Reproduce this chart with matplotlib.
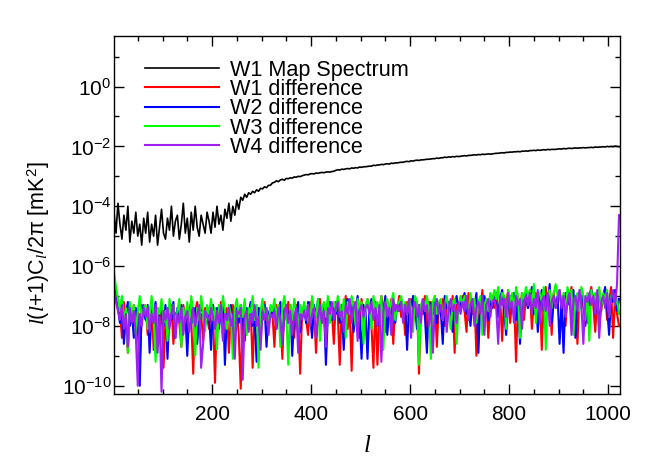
import numpy as np
import matplotlib
matplotlib.use("Agg")
import matplotlib.pyplot as plt
from matplotlib.ticker import FixedLocator, NullFormatter, LogFormatterSciNotation, MultipleLocator

plt.rcParams['font.family'] = ['Liberation Sans', 'DejaVu Sans']
plt.rcParams['mathtext.fontset'] = 'custom'
plt.rcParams['mathtext.rm'] = 'Liberation Sans'
plt.rcParams['mathtext.it'] = 'Liberation Serif:italic'
plt.rcParams['mathtext.bf'] = 'Liberation Sans:bold'

# multipole grid (every 4th l)
ell = np.arange(2, 1023, 4)

labels = ["W1 Map Spectrum", "W1 difference", "W2 difference", "W3 difference", "W4 difference"]
colors = ["black", "#ff0000", "#0000ff", "#00ff00", "#a020f0"]

# log10 of l(l+1)C_l/2pi [mK^2]
w1_map_log = [
    -4.2, -4.9, -3.9, -4.6, -5.1, -4.3, -4.8, -4.0, -5.2, -4.5, -4.9, -4.2, -5.0, -4.6, -5.3, -4.4,
    -4.9, -4.2, -5.2, -4.6, -5.0, -4.3, -5.3, -4.7, -4.1, -4.9, -5.1, -4.4, -4.8, -4.0, -5.0, -4.5,
    -4.3, -5.1, -4.6, -3.9, -4.9, -4.4, -5.2, -4.2, -4.8, -4.0, -4.7, -5.0, -4.3, -4.6, -4.9, -4.2,
    -4.5, -4.9, -4.2, -4.7, -4.0, -4.6, -4.3, -4.8, -4.1, -4.4, -3.9, -4.5, -4.0, -4.3, -3.8, -4.1,
    -3.7, -3.8, -3.6, -3.7, -3.55, -3.6, -3.5, -3.55, -3.45, -3.5, -3.4, -3.42, -3.35, -3.38, -3.3, -3.3,
    -3.22, -3.2, -3.15, -3.18, -3.12, -3.1, -3.13, -3.07, -3.08, -3.05, -3.06, -3.02, -3.03, -3.0, -3.01, -2.98,
    -2.96, -2.94, -2.95, -2.92, -2.91, -2.92, -2.89, -2.9, -2.88, -2.87, -2.88, -2.86, -2.85, -2.86, -2.84, -2.83,
    -2.80, -2.78, -2.79, -2.76, -2.77, -2.75, -2.74, -2.75, -2.72, -2.73, -2.71, -2.72, -2.69, -2.70, -2.68, -2.68,
    -2.67, -2.66, -2.66, -2.63, -2.64, -2.62, -2.62, -2.6, -2.61, -2.59, -2.58, -2.59, -2.56, -2.57, -2.55, -2.55,
    -2.54, -2.53, -2.53, -2.51, -2.5, -2.51, -2.48, -2.49, -2.47, -2.46, -2.47, -2.45, -2.45, -2.44, -2.43, -2.43,
    -2.42, -2.41, -2.41, -2.39, -2.4, -2.38, -2.38, -2.36, -2.37, -2.35, -2.36, -2.34, -2.35, -2.33, -2.34, -2.33,
    -2.32, -2.31, -2.32, -2.3, -2.3, -2.29, -2.28, -2.29, -2.27, -2.28, -2.26, -2.27, -2.26, -2.25, -2.26, -2.25,
    -2.24, -2.23, -2.23, -2.22, -2.21, -2.22, -2.2, -2.2, -2.19, -2.19, -2.18, -2.18, -2.17, -2.18, -2.16, -2.16,
    -2.15, -2.16, -2.14, -2.14, -2.13, -2.14, -2.12, -2.13, -2.12, -2.11, -2.12, -2.1, -2.11, -2.1, -2.1, -2.1,
    -2.09, -2.08, -2.09, -2.07, -2.08, -2.07, -2.06, -2.07, -2.06, -2.05, -2.06, -2.05, -2.05, -2.04, -2.05, -2.04,
    -2.04, -2.03, -2.04, -2.02, -2.03, -2.02, -2.02, -2.01, -2.02, -2.0, -2.01, -2.0, -2.01, -1.99, -2.0, -2.01,
]

w1_diff_log = [
    -6.7, -7.0, -7.3, -7.5, -8.4, -7.2, -7.7, -8.9, -7.4, -7.9, -7.3, -8.1, -7.5, -9.2, -7.6, -7.3,
    -7.4, -8.3, -7.6, -7.2, -8.8, -7.7, -7.4, -8.1, -7.3, -9.4, -7.8, -7.5, -8.0, -7.3, -8.6, -7.6,
    -7.5, -7.9, -8.7, -7.3, -7.7, -8.2, -7.4, -7.8, -9.6, -7.5, -7.2, -8.0, -7.6, -8.5, -7.4, -7.7,
    -8.1, -7.3, -7.6, -9.9, -7.5, -7.8, -7.2, -8.4, -7.6, -7.4, -8.9, -7.7, -7.3, -8.0, -7.5, -8.3,
    -10.1, -7.6, -7.4, -8.2, -7.7, -7.3, -9.4, -7.6, -7.9, -7.4, -8.5, -7.5, -7.2, -7.8, -8.1, -7.4,
    -7.6, -8.7, -7.3, -7.7, -7.5, -9.1, -7.4, -7.8, -7.2, -8.0, -7.6, -8.4, -7.3, -7.7, -9.6, -7.5,
    -7.3, -7.8, -8.3, -7.2, -7.6, -7.4, -8.9, -7.5, -7.1, -7.9, -7.4, -8.2, -7.2, -7.7, -7.5, -8.6,
    -7.2, -7.6, -9.3, -7.3, -7.5, -7.0, -8.1, -7.4, -9.5, -7.2, -7.7, -7.3, -8.4, -7.1, -7.6, -7.4,
    -7.1, -7.5, -8.0, -9.4, -7.2, -9.3, -7.6, -7.0, -7.4, -8.2, -7.2, -7.6, -7.1, -8.6, -7.3, -7.5,
    -7.0, -7.7, -7.3, -8.3, -7.2, -7.5, -7.1, -7.9, -7.4, -7.2, -9.6, -7.3, -7.6, -7.0, -8.1, -7.4,
    -7.2, -7.6, -7.0, -8.7, -7.3, -7.5, -7.1, -8.0, -7.4, -7.2, -7.8, -7.0, -8.9, -7.3, -7.5, -7.1,
    -7.0, -7.5, -8.2, -6.9, -7.3, -7.6, -7.1, -9.0, -7.2, -7.4, -6.8, -7.7, -7.1, -8.4, -7.3, -7.0,
    -7.4, -6.9, -7.6, -7.1, -8.5, -7.0, -7.3, -6.8, -7.9, -7.2, -7.0, -9.2, -7.1, -7.5, -6.9, -7.8,
    -7.0, -7.4, -6.8, -8.1, -7.2, -6.9, -7.6, -7.0, -8.8, -7.1, -6.7, -7.4, -7.0, -8.3, -6.9, -7.3,
    -7.2, -6.8, -7.5, -7.0, -8.0, -6.9, -7.3, -6.7, -7.7, -7.1, -8.6, -7.0, -6.8, -7.4, -7.1, -7.9,
    -7.0, -6.7, -7.3, -8.2, -7.0, -6.8, -7.5, -7.1, -6.9, -7.8, -7.2, -6.7, -8.4, -7.1, -7.6, -8.0,
]

w2_diff_log = [
    -6.5, -7.1, -7.4, -7.9, -7.3, -8.6, -7.6, -7.2, -8.0, -7.5, -8.4, -7.4, -7.7, -10.0, -7.3, -7.6,
    -7.8, -7.3, -8.9, -7.5, -7.7, -7.2, -8.2, -7.6, -7.4, -8.0, -7.3, -9.1, -7.6, -7.8, -7.2, -8.4,
    -7.4, -7.7, -7.3, -8.1, -7.6, -9.0, -7.5, -7.2, -7.9, -7.4, -8.6, -7.7, -7.3, -7.6, -8.0, -7.4,
    -7.6, -8.8, -7.3, -7.7, -7.4, -8.1, -7.5, -7.2, -9.3, -7.6, -7.8, -7.3, -8.3, -7.5, -7.4, -7.9,
    -7.3, -7.7, -8.5, -7.4, -7.6, -7.2, -8.0, -7.7, -9.2, -7.4, -7.5, -7.8, -7.3, -8.7, -7.6, -7.4,
    -7.7, -7.3, -8.1, -7.6, -7.2, -8.6, -7.5, -7.4, -7.9, -7.3, -9.0, -7.6, -7.7, -7.2, -8.2, -7.5,
    -7.4, -7.9, -7.2, -7.6, -8.4, -7.3, -7.7, -7.1, -8.0, -7.5, -7.3, -9.3, -7.6, -7.2, -7.8, -7.4,
    -7.6, -7.2, -7.9, -7.4, -8.8, -7.3, -7.1, -7.6, -7.3, -8.2, -7.5, -7.0, -7.7, -9.1, -7.3, -7.5,
    -9.1, -7.4, -7.1, -7.7, -7.3, -8.0, -7.5, -7.2, -7.6, -7.0, -8.3, -7.4, -7.6, -7.2, -7.9, -7.3,
    -7.5, -7.1, -7.8, -7.3, -8.8, -7.2, -7.6, -7.0, -7.4, -8.1, -7.3, -7.5, -7.1, -7.7, -8.9, -7.2,
    -7.3, -7.6, -7.1, -7.9, -7.2, -7.5, -8.6, -7.0, -7.4, -7.2, -7.7, -8.2, -7.3, -7.0, -7.5, -7.2,
    -7.2, -6.9, -7.6, -7.3, -8.0, -7.1, -7.4, -6.9, -8.9, -7.2, -7.5, -7.0, -7.3, -7.8, -7.1, -7.4,
    -7.0, -7.3, -7.7, -7.1, -6.8, -7.5, -8.3, -7.2, -7.0, -7.4, -6.9, -7.8, -7.1, -8.6, -7.3, -7.0,
    -6.9, -7.4, -7.1, -6.7, -7.6, -7.0, -8.2, -7.2, -6.8, -7.5, -7.0, -7.3, -6.6, -7.9, -7.1, -7.4,
    -7.0, -8.6, -7.2, -8.9, -6.9, -7.3, -7.0, -7.7, -6.8, -8.4, -7.1, -7.4, -6.9, -7.2, -8.0, -7.0,
    -7.3, -6.8, -7.1, -7.6, -6.9, -8.1, -7.2, -7.0, -6.7, -7.4, -8.3, -7.0, -7.2, -6.8, -7.5, -7.1,
]

w3_diff_log = [
    -6.2, -6.7, -7.1, -7.5, -7.0, -7.9, -7.4, -8.9, -7.2, -7.6, -7.3, -8.3, -7.5, -7.0, -7.8, -7.4,
    -7.3, -8.1, -7.6, -7.0, -7.7, -9.2, -7.4, -7.6, -7.1, -7.9, -7.5, -8.5, -7.1, -7.6, -7.3, -8.0,
    -7.5, -7.1, -8.7, -7.4, -7.7, -7.2, -8.0, -7.0, -7.6, -9.0, -7.4, -7.8, -7.0, -7.6, -8.2, -7.3,
    -7.6, -7.1, -7.8, -7.4, -8.8, -7.3, -7.7, -7.0, -7.5, -8.1, -7.3, -7.6, -9.1, -7.4, -7.1, -7.7,
    -7.3, -7.7, -7.1, -8.3, -7.4, -7.6, -7.0, -7.8, -7.3, -9.4, -7.5, -7.1, -7.7, -7.4, -8.1, -7.3,
    -7.5, -7.1, -7.7, -7.3, -8.7, -7.4, -7.0, -7.6, -9.3, -7.3, -7.8, -7.1, -7.5, -8.2, -7.3, -7.6,
    -7.2, -7.6, -7.3, -8.0, -7.0, -7.5, -7.7, -7.1, -8.5, -7.4, -7.2, -7.7, -7.0, -7.9, -7.4, -7.2,
    -7.5, -7.0, -7.3, -7.8, -7.1, -8.4, -7.2, -7.6, -7.0, -7.4, -8.0, -7.1, -7.5, -7.2, -8.6, -7.3,
    -7.1, -7.4, -8.1, -7.0, -7.5, -7.2, -7.7, -7.0, -8.8, -7.3, -7.1, -7.6, -7.2, -6.9, -7.8, -7.3,
    -7.2, -7.0, -7.5, -7.2, -7.6, -7.1, -7.4, -8.2, -7.0, -7.2, -9.3, -7.3, -7.1, -7.5, -7.0, -7.4,
    -9.1, -7.2, -7.0, -7.6, -7.2, -7.1, -7.8, -7.3, -7.0, -7.5, -8.1, -7.2, -7.1, -8.6, -7.3, -7.0,
    -7.3, -7.0, -7.2, -7.6, -6.9, -7.3, -7.1, -7.9, -7.2, -7.0, -8.3, -7.3, -7.1, -7.5, -6.9, -7.2,
    -6.8, -7.1, -6.7, -7.4, -6.9, -7.0, -8.1, -6.8, -7.2, -6.9, -7.6, -6.7, -7.0, -8.4, -6.9, -7.1,
    -6.7, -7.0, -6.8, -7.3, -6.6, -7.9, -7.0, -6.9, -7.2, -6.7, -8.8, -7.0, -6.8, -7.4, -6.9, -6.6,
    -7.0, -6.8, -7.3, -6.9, -7.6, -6.7, -7.0, -6.8, -8.3, -7.1, -6.9, -7.5, -6.7, -7.0, -7.8, -6.9,
    -8.5, -6.8, -7.2, -6.9, -7.0, -6.7, -7.4, -6.9, -7.1, -6.8, -7.7, -7.0, -6.9, -7.3, -7.1, -7.6,
]

w4_diff_log = [
    -6.8, -7.2, -7.5, -7.8, -7.3, -8.1, -7.6, -8.7, -7.4, -7.9, -7.5, -8.3, -10.0, -7.6, -8.0, -7.4,
    -7.7, -7.4, -8.2, -7.6, -7.9, -7.3, -8.9, -7.7, -10.2, -7.5, -7.8, -7.4, -8.1, -7.6, -7.3, -8.4,
    -7.6, -7.9, -7.4, -8.3, -7.7, -7.5, -8.2, -7.8, -7.4, -8.0, -7.6, -7.3, -9.4, -8.6, -7.5, -7.7,
    -7.8, -7.4, -7.7, -8.1, -7.5, -7.9, -7.3, -8.5, -7.6, -7.8, -7.4, -8.0, -7.7, -9.1, -7.5, -7.6,
    -7.4, -9.8, -7.7, -7.5, -8.2, -7.6, -7.9, -7.3, -8.0, -7.7, -8.8, -7.5, -7.8, -7.4, -8.3, -7.6,
    -7.7, -7.5, -8.1, -7.4, -7.8, -8.6, -7.6, -7.3, -7.9, -7.5, -8.3, -7.7, -7.4, -8.9, -7.6, -7.8,
    -7.5, -7.8, -7.3, -8.0, -7.6, -7.4, -8.4, -7.7, -7.3, -7.9, -7.5, -8.7, -7.4, -7.6, -7.2, -7.8,
    -7.4, -7.2, -7.7, -7.5, -8.2, -7.3, -7.6, -7.1, -7.9, -7.4, -7.2, -8.5, -7.5, -7.3, -7.7, -7.4,
    -7.3, -7.6, -7.2, -7.8, -7.4, -8.0, -7.3, -9.2, -7.5, -7.2, -7.7, -7.4, -8.3, -7.1, -7.5, -7.3,
    -7.5, -7.2, -7.9, -7.3, -7.6, -7.1, -8.4, -7.4, -7.2, -7.7, -7.3, -7.9, -7.1, -7.5, -7.3, -8.0,
    -7.3, -8.9, -7.4, -7.1, -7.6, -7.3, -7.8, -7.2, -8.2, -7.4, -7.1, -7.5, -7.3, -7.9, -7.2, -7.6,
    -7.2, -7.5, -7.0, -7.8, -7.3, -7.1, -8.0, -7.4, -7.2, -7.6, -7.0, -8.3, -7.3, -7.1, -7.7, -7.2,
    -7.1, -7.4, -8.6, -7.0, -7.3, -7.1, -7.7, -6.9, -7.4, -7.2, -7.9, -7.0, -7.3, -7.1, -8.1, -7.2,
    -7.0, -7.3, -6.9, -7.6, -7.1, -7.4, -6.8, -7.9, -7.2, -7.0, -7.5, -6.9, -8.0, -7.2, -7.0, -7.4,
    -7.1, -6.8, -7.4, -7.0, -7.7, -7.2, -6.9, -8.3, -7.1, -7.0, -7.5, -6.8, -7.3, -8.6, -7.0, -7.2,
    -6.9, -7.3, -7.0, -7.6, -6.8, -8.4, -7.2, -7.0, -7.4, -6.9, -7.7, -7.1, -6.8, -7.3, -6.6, -4.3,
]

series = [w1_map_log, w1_diff_log, w2_diff_log, w3_diff_log, w4_diff_log]
widths = [1.2, 1.5, 1.5, 1.5, 1.5]

fig = plt.figure(figsize=(6.54, 4.67), dpi=100)
ax = fig.add_axes([114/654, 73/467, 506/654, 358/467])

for vals, lab, col, lw in zip(series, labels, colors, widths):
    ax.plot(ell, 10.0 ** np.array(vals), color=col, lw=lw, label=lab)

ax.set_yscale('log')
ax.set_xlim(2, 1024)
ax.set_ylim(5.3e-11, 49)

ax.yaxis.set_major_locator(FixedLocator([10.0 ** e for e in range(-10, 1, 2)]))
ax.yaxis.set_minor_locator(FixedLocator([10.0 ** e for e in range(-9, 2, 2)]))
ax.yaxis.set_major_formatter(LogFormatterSciNotation())
ax.yaxis.set_minor_formatter(NullFormatter())
ax.xaxis.set_major_locator(MultipleLocator(200))
ax.xaxis.set_minor_locator(MultipleLocator(50))

ax.tick_params(which='both', direction='in', top=True, right=True, width=1.0)
ax.tick_params(which='major', length=7)
ax.tick_params(which='minor', length=3.5)
ax.tick_params(axis='x', labelsize=15, pad=8)
ax.tick_params(axis='y', labelsize=15, pad=2)
for sp in ax.spines.values():
    sp.set_linewidth(1.0)

ax.set_xlabel('l', fontfamily='Liberation Serif', fontstyle='italic', fontsize=18)
ax.xaxis.set_label_coords(0.5, -0.115)
ax.set_ylabel(r'$l(l$+1)C$_l$/2π [mK$^2$]', fontsize=15.5)
ax.yaxis.set_label_coords(-0.122, 0.42)

leg = ax.legend(loc='upper left', frameon=False, fontsize=15.6, handlelength=3.4,
                handletextpad=0.5, labelspacing=-0.08, borderaxespad=0.0,
                bbox_to_anchor=(0.045, 0.958))

fig.savefig('out.png', dpi=100)
